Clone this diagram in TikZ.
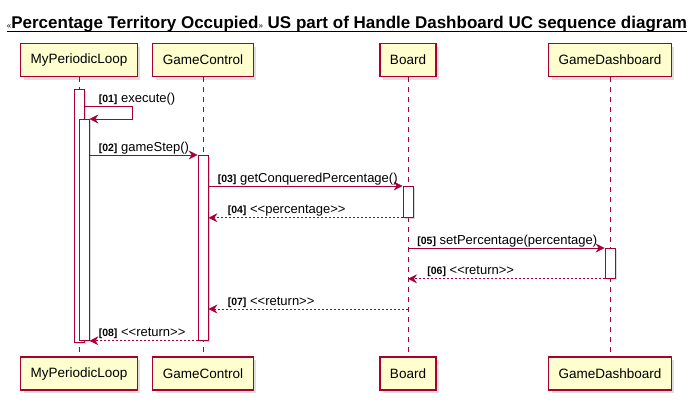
\documentclass[tikz,border=0pt]{standalone}
\usepackage{fontspec}
\setmainfont{Liberation Sans}
\usetikzlibrary{
	positioning			% Allows relative placement
	, arrows.meta		% Allows Stealth style arrow tips
	, shadows			% Allows drop shadows under boxes
}
\definecolor{umlred}{HTML}{A80036}
\definecolor{umlfill}{HTML}{FEFECE}
\newcommand{\seqnum}[1]{{\fontsize{10.5}{12}\selectfont\bfseries [#1]}\ }
\newcommand{\tinyquote}[1]{{\fontsize{8}{9}\selectfont\mdseries #1}}

\begin{document}
\begin{tikzpicture}[x=1pt, y=-1pt
		, participant/.style={draw=umlred, line width=1.2pt, fill=umlfill, minimum height=33pt, inner xsep=10pt
			, font=\fontsize{13.5}{15}\selectfont
			, drop shadow={shadow xshift=3pt, shadow yshift=-3pt, opacity=.25}}
		, lifeline/.style={draw=umlred, line width=0.8pt, dash pattern=on 5pt off 5pt}
		, activation/.style={draw=umlred, line width=0.8pt, fill=white, minimum width=10pt, inner sep=0pt, anchor=north
			, drop shadow={shadow xshift=2pt, shadow yshift=-2pt, opacity=.3}}
		, basearrow/.style={draw=umlred, line width=0.8pt, -{Stealth[length=9pt, width=9pt, inset=3pt]}}
		, call/.style={basearrow}
		, reply/.style={basearrow, dash pattern=on 2pt off 2pt}
		, msglabel/.style={anchor=base west, inner sep=0pt, font=\fontsize{13}{15}\selectfont}]

		\useasboundingbox (0,0) rectangle (700,402);

		%%% Title
		\node[font=\fontsize{17}{20}\selectfont\bfseries, inner sep=0pt, anchor=base] (title) at (347,28)
			{\tinyquote{\guillemotleft}Percentage Territory Occupied\tinyquote{\guillemotright} US part of Handle Dashboard UC sequence diagram};
		\draw[line width=1pt] ([yshift=-3pt]title.base west) -- ([yshift=-3pt]title.base east);

		%%% Participants, top and bottom, with their lifelines
		\foreach \name/\x in {MyPeriodicLoop/79, GameControl/203, Board/408, GameDashboard/610} {
			\node[participant] (\name-top) at (\x, 60) {\name};
			\node[participant] (\name-bottom) at (\x, 373.5) {\name};
			\draw[lifeline] (\name-top) -- (\name-bottom);
		};

		%%% Activation bars
		\node[activation, minimum height=253pt] (loopouter) at (79,89) {};
		\node[activation, minimum height=221pt] (loopinner) at (84,119) {};
		\node[activation, minimum height=185pt] (gcact) at (203,155) {};
		\node[activation, minimum height=31pt] (boardact) at (408,186) {};
		\node[activation, minimum height=30pt] (dashact) at (610,248) {};

		%%% Messages
		%% execute
		\coordinate (selfcall) at (79,106);
		\draw[call] (loopouter.east |- selfcall) node[msglabel, xshift=14pt, yshift=4pt] {\seqnum{01}execute()}
			-- ++(48,0) |- (loopinner.north east);

		%% gameStep
		\draw[call] (loopinner.east |- gcact.north) node[msglabel, xshift=9pt, yshift=4pt] {\seqnum{02}gameStep()}
			-- (gcact.north west);

		%% getConqueredPercentage
		\draw[call] (gcact.east |- boardact.north) node[msglabel, xshift=9pt, yshift=4pt] {\seqnum{03}getConqueredPercentage()}
			-- (boardact.north west);
		\draw[reply] (boardact.south west) -- (gcact.east |- boardact.south)
			node[msglabel, xshift=19pt, yshift=4pt] {\seqnum{04}<{}<percentage>{}>};

		%% setPercentage
		\draw[call] (Board-top.south |- dashact.north) node[msglabel, xshift=9pt, yshift=4pt] {\seqnum{05}setPercentage(percentage)}
			-- (dashact.north west);
		\draw[reply] (dashact.south west) -- (Board-top.south |- dashact.south)
			node[msglabel, xshift=19pt, yshift=4pt] {\seqnum{06}<{}<return>{}>};

		%% returns
		\coordinate (boardreturn) at (408,309);
		\draw[reply] (boardreturn) -- (gcact.east |- boardreturn)
			node[msglabel, xshift=19pt, yshift=4pt] {\seqnum{07}<{}<return>{}>};
		\draw[reply] (gcact.south west) -- (loopinner.south east)
			node[msglabel, xshift=9pt, yshift=4pt] {\seqnum{08}<{}<return>{}>};
	\end{tikzpicture}
\end{document}
